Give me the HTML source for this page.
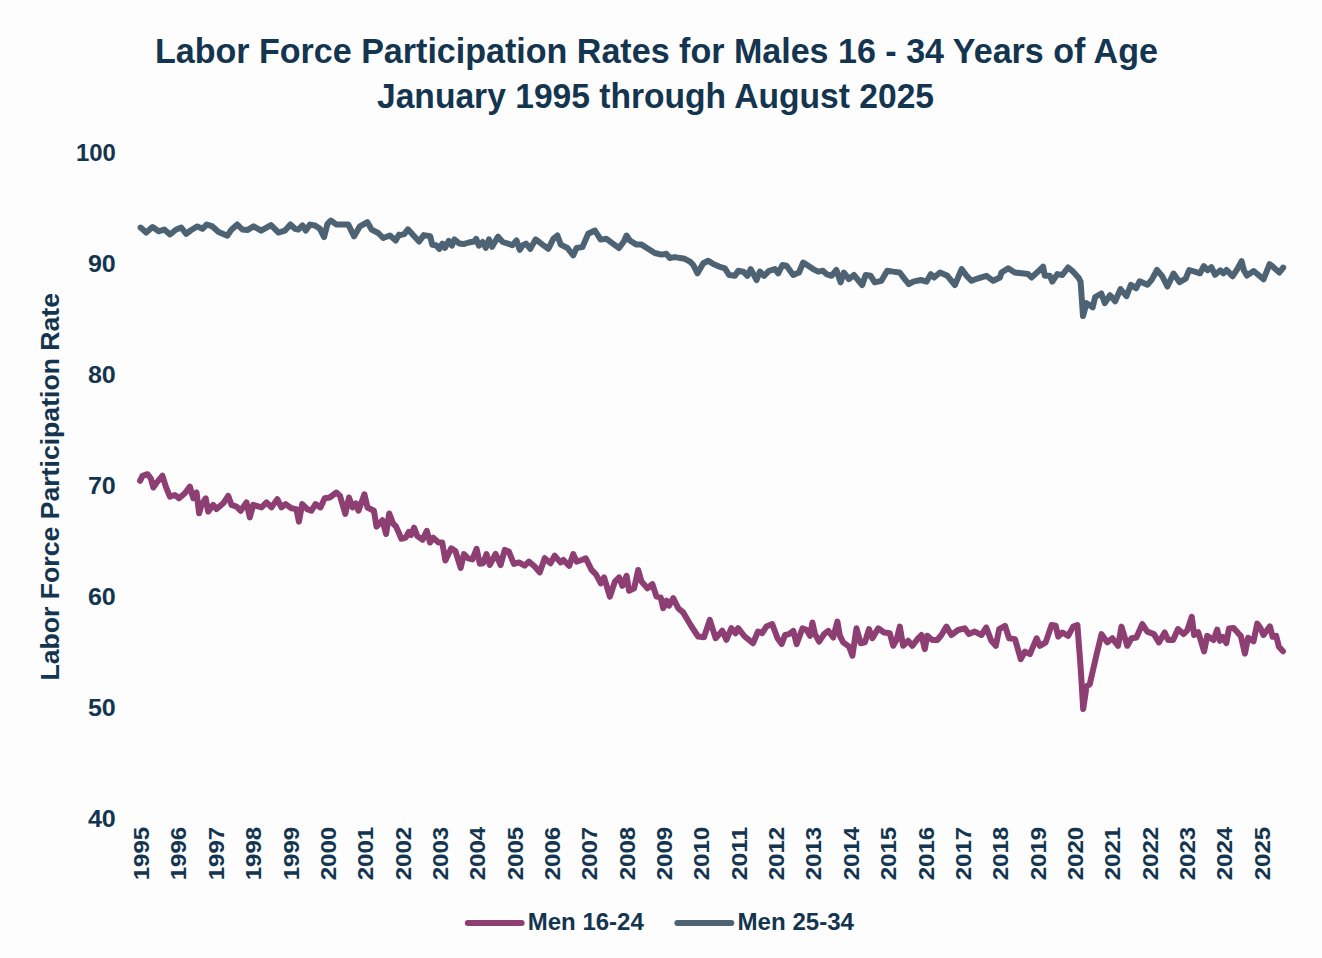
<!DOCTYPE html>
<html><head><meta charset="utf-8"><style>
html,body{margin:0;padding:0;background:#fdfdfd;}
svg{display:block;}
text{font-family:"Liberation Sans",Arial,sans-serif;font-weight:bold;fill:#14354f;}
.tk{font-size:24px;}
.xl{font-size:22.2px;}
</style></head><body>
<svg width="1322" height="958" viewBox="0 0 1322 958">
<rect width="1322" height="958" fill="#fdfdfd"/>
<text x="656.4" y="63" text-anchor="middle" style="font-size:34.5px" textLength="1003" lengthAdjust="spacingAndGlyphs">Labor Force Participation Rates for Males 16 - 34 Years of Age</text>
<text x="655.5" y="107.7" text-anchor="middle" style="font-size:34.5px" textLength="557" lengthAdjust="spacingAndGlyphs">January 1995 through August 2025</text>
<text x="75.9" y="160.8" class="tk" textLength="39.9" lengthAdjust="spacingAndGlyphs">100</text>
<text x="87.9" y="271.8" class="tk" textLength="27.9" lengthAdjust="spacingAndGlyphs">90</text>
<text x="87.9" y="382.7" class="tk" textLength="27.9" lengthAdjust="spacingAndGlyphs">80</text>
<text x="87.9" y="493.7" class="tk" textLength="27.9" lengthAdjust="spacingAndGlyphs">70</text>
<text x="87.9" y="604.7" class="tk" textLength="27.9" lengthAdjust="spacingAndGlyphs">60</text>
<text x="87.9" y="715.6" class="tk" textLength="27.9" lengthAdjust="spacingAndGlyphs">50</text>
<text x="87.9" y="826.6" class="tk" textLength="27.9" lengthAdjust="spacingAndGlyphs">40</text>

<text transform="translate(59,680.5) rotate(-90)" style="font-size:26px" textLength="387.5" lengthAdjust="spacingAndGlyphs">Labor Force Participation Rate</text>
<text transform="translate(149.1,880.3) rotate(-90)" class="xl" textLength="53.5" lengthAdjust="spacingAndGlyphs">1995</text>
<text transform="translate(186.4,880.3) rotate(-90)" class="xl" textLength="53.5" lengthAdjust="spacingAndGlyphs">1996</text>
<text transform="translate(223.8,880.3) rotate(-90)" class="xl" textLength="53.5" lengthAdjust="spacingAndGlyphs">1997</text>
<text transform="translate(261.1,880.3) rotate(-90)" class="xl" textLength="53.5" lengthAdjust="spacingAndGlyphs">1998</text>
<text transform="translate(298.5,880.3) rotate(-90)" class="xl" textLength="53.5" lengthAdjust="spacingAndGlyphs">1999</text>
<text transform="translate(335.9,880.3) rotate(-90)" class="xl" textLength="53.5" lengthAdjust="spacingAndGlyphs">2000</text>
<text transform="translate(373.2,880.3) rotate(-90)" class="xl" textLength="53.5" lengthAdjust="spacingAndGlyphs">2001</text>
<text transform="translate(410.5,880.3) rotate(-90)" class="xl" textLength="53.5" lengthAdjust="spacingAndGlyphs">2002</text>
<text transform="translate(447.9,880.3) rotate(-90)" class="xl" textLength="53.5" lengthAdjust="spacingAndGlyphs">2003</text>
<text transform="translate(485.2,880.3) rotate(-90)" class="xl" textLength="53.5" lengthAdjust="spacingAndGlyphs">2004</text>
<text transform="translate(522.6,880.3) rotate(-90)" class="xl" textLength="53.5" lengthAdjust="spacingAndGlyphs">2005</text>
<text transform="translate(560.0,880.3) rotate(-90)" class="xl" textLength="53.5" lengthAdjust="spacingAndGlyphs">2006</text>
<text transform="translate(597.3,880.3) rotate(-90)" class="xl" textLength="53.5" lengthAdjust="spacingAndGlyphs">2007</text>
<text transform="translate(634.6,880.3) rotate(-90)" class="xl" textLength="53.5" lengthAdjust="spacingAndGlyphs">2008</text>
<text transform="translate(672.0,880.3) rotate(-90)" class="xl" textLength="53.5" lengthAdjust="spacingAndGlyphs">2009</text>
<text transform="translate(709.4,880.3) rotate(-90)" class="xl" textLength="53.5" lengthAdjust="spacingAndGlyphs">2010</text>
<text transform="translate(746.7,880.3) rotate(-90)" class="xl" textLength="53.5" lengthAdjust="spacingAndGlyphs">2011</text>
<text transform="translate(784.1,880.3) rotate(-90)" class="xl" textLength="53.5" lengthAdjust="spacingAndGlyphs">2012</text>
<text transform="translate(821.4,880.3) rotate(-90)" class="xl" textLength="53.5" lengthAdjust="spacingAndGlyphs">2013</text>
<text transform="translate(858.8,880.3) rotate(-90)" class="xl" textLength="53.5" lengthAdjust="spacingAndGlyphs">2014</text>
<text transform="translate(896.1,880.3) rotate(-90)" class="xl" textLength="53.5" lengthAdjust="spacingAndGlyphs">2015</text>
<text transform="translate(933.5,880.3) rotate(-90)" class="xl" textLength="53.5" lengthAdjust="spacingAndGlyphs">2016</text>
<text transform="translate(970.8,880.3) rotate(-90)" class="xl" textLength="53.5" lengthAdjust="spacingAndGlyphs">2017</text>
<text transform="translate(1008.2,880.3) rotate(-90)" class="xl" textLength="53.5" lengthAdjust="spacingAndGlyphs">2018</text>
<text transform="translate(1045.5,880.3) rotate(-90)" class="xl" textLength="53.5" lengthAdjust="spacingAndGlyphs">2019</text>
<text transform="translate(1082.8,880.3) rotate(-90)" class="xl" textLength="53.5" lengthAdjust="spacingAndGlyphs">2020</text>
<text transform="translate(1120.2,880.3) rotate(-90)" class="xl" textLength="53.5" lengthAdjust="spacingAndGlyphs">2021</text>
<text transform="translate(1157.5,880.3) rotate(-90)" class="xl" textLength="53.5" lengthAdjust="spacingAndGlyphs">2022</text>
<text transform="translate(1194.9,880.3) rotate(-90)" class="xl" textLength="53.5" lengthAdjust="spacingAndGlyphs">2023</text>
<text transform="translate(1232.2,880.3) rotate(-90)" class="xl" textLength="53.5" lengthAdjust="spacingAndGlyphs">2024</text>
<text transform="translate(1269.6,880.3) rotate(-90)" class="xl" textLength="53.5" lengthAdjust="spacingAndGlyphs">2025</text>

<polyline points="140.6,227.6 146.2,232.6 152.5,227.0 158.7,231.3 164.3,229.5 170.0,234.5 176.2,229.5 181.2,227.6 186.2,233.8 191.2,230.0 197.4,226.4 202.4,228.8 206.8,224.5 212.4,226.4 218.6,232.0 227.4,235.7 231.1,230.1 237.3,224.5 242.3,229.5 247.3,230.1 253.6,226.4 261.1,230.7 271.0,225.1 278.5,232.6 284.8,230.7 290.4,224.5 295.0,228.8 298.3,229.6 302.5,225.5 305.8,230.5 310.0,224.6 315.0,225.5 320.0,228.8 324.1,237.1 327.5,223.8 330.8,220.5 336.6,224.6 343.3,224.6 348.3,224.6 354.1,236.3 359.9,226.3 367.4,222.1 371.6,229.6 378.2,233.0 383.2,238.0 389.9,235.5 395.7,240.5 399.0,234.6 400.0,235.1 404.2,234.1 407.9,229.3 413.8,235.7 419.1,241.5 423.8,235.1 430.2,236.2 432.3,244.7 436.0,245.2 439.2,248.9 442.4,243.6 445.0,247.8 448.7,240.9 451.9,245.7 454.5,239.4 459.3,243.6 463.5,244.1 468.8,242.5 474.1,241.5 476.2,238.8 478.9,245.7 482.6,242.0 485.8,247.8 489.0,239.4 492.1,246.8 498.0,236.7 502.7,242.0 508.0,243.6 512.3,245.2 516.5,240.4 519.7,249.9 522.8,245.2 526.0,243.6 530.3,248.9 535.6,239.4 539.8,242.5 542.5,244.6 548.3,248.8 553.3,238.8 557.4,235.5 560.8,244.6 567.4,248.0 573.2,255.4 576.6,248.0 582.4,247.1 588.2,233.8 594.9,230.5 600.7,239.6 606.5,238.8 613.2,243.8 619.0,248.0 624.0,241.3 626.5,235.5 629.8,240.5 636.5,244.6 641.5,244.6 648.1,248.8 654.8,253.0 661.4,254.6 666.4,253.8 669.8,258.0 674.8,257.1 684.7,258.8 690.0,261.6 693.3,265.0 697.5,273.3 703.3,263.3 708.3,260.8 713.3,264.1 719.1,266.6 724.9,268.3 729.1,275.0 734.9,275.8 738.3,270.8 743.3,271.6 747.4,275.8 750.7,269.1 756.6,280.0 759.9,271.6 764.1,275.8 769.0,270.8 774.9,269.1 778.2,273.3 782.4,265.0 786.5,265.8 793.2,275.0 799.0,272.5 803.2,262.5 808.2,265.8 813.1,269.1 818.1,271.6 823.1,270.8 826.5,274.1 831.5,275.8 836.4,270.0 840.6,282.4 843.9,272.5 848.9,279.1 853.9,275.0 862.2,285.0 865.6,275.0 870.6,275.8 874.7,282.4 881.4,280.8 887.2,270.8 893.0,271.6 899.7,272.5 904.7,279.1 908.8,284.1 913.3,281.6 920.8,280.0 926.6,281.6 930.8,274.1 934.1,277.5 940.0,272.5 947.4,275.8 954.9,285.0 961.6,269.1 966.6,275.8 971.6,280.8 978.2,278.3 986.5,275.8 993.2,280.8 999.9,277.5 1001.5,272.5 1008.2,268.3 1014.8,272.5 1021.5,273.3 1028.1,274.1 1031.5,277.5 1038.1,271.6 1043.1,266.6 1044.8,275.8 1049.8,275.8 1052.3,281.6 1057.3,274.1 1062.3,275.0 1068.1,267.5 1073.1,271.6 1078.9,278.3 1080.6,281.6 1083.0,316.1 1086.5,303.1 1092.6,307.4 1095.2,297.0 1101.3,293.5 1104.8,303.1 1110.0,295.2 1115.2,301.3 1120.5,289.1 1126.5,296.1 1130.9,284.8 1136.1,288.3 1139.6,281.3 1147.4,284.8 1151.8,279.6 1157.0,270.0 1162.2,276.1 1167.4,286.5 1173.5,273.5 1179.6,282.2 1185.7,278.7 1189.2,270.0 1197.9,272.6 1200.0,273.3 1203.8,266.1 1207.6,270.3 1211.3,267.2 1215.1,274.8 1220.4,270.3 1223.4,273.3 1226.5,269.9 1232.5,276.3 1238.0,268.0 1241.6,261.2 1243.9,270.3 1246.9,275.6 1253.7,271.0 1263.5,279.3 1269.6,264.2 1273.4,267.2 1279.4,272.5 1283.2,267.6" fill="none" stroke="#4d6374" stroke-width="6" stroke-linejoin="round" stroke-linecap="round"/>
<polyline points="140.0,480.8 142.5,475.8 147.5,474.2 150.8,478.3 153.3,487.5 157.5,481.6 162.5,475.8 165.8,486.6 169.9,496.6 174.9,495.0 179.1,498.3 184.9,493.3 189.9,486.6 193.2,498.3 196.6,492.5 199.1,513.3 201.6,504.9 205.7,498.3 208.2,511.6 213.2,504.9 216.5,509.1 223.2,503.3 228.2,495.8 231.5,504.9 236.5,506.6 240.7,510.8 246.5,502.4 249.8,517.4 253.2,504.9 261.5,507.4 266.5,502.4 271.5,507.4 277.3,499.1 281.4,507.4 285.6,504.1 291.4,508.3 296.4,509.1 298.9,521.6 302.2,504.1 307.2,509.1 311.4,510.8 315.5,504.1 320.5,507.4 324.7,498.3 329.7,497.5 336.4,492.5 340.0,495.9 345.3,513.9 349.0,497.5 352.7,507.5 355.9,503.3 358.5,510.7 364.4,494.3 367.5,507.5 373.9,510.7 376.5,526.6 382.4,520.2 386.1,534.0 389.2,513.4 393.0,523.4 396.1,526.6 401.4,538.8 405.7,537.7 408.8,531.9 411.0,535.1 414.1,527.7 417.3,536.1 422.6,539.8 426.8,530.8 430.0,542.5 433.2,537.7 438.5,542.5 442.2,542.5 445.4,560.5 451.2,548.3 455.4,551.0 460.7,567.9 463.9,554.1 468.1,558.4 472.4,559.4 476.6,548.8 479.8,563.7 483.1,563.2 486.5,554.0 489.8,564.9 495.6,554.0 500.6,564.9 504.8,549.9 508.9,551.6 513.9,564.0 518.9,562.4 524.7,565.7 528.9,561.6 534.7,566.5 539.7,572.4 544.7,558.2 550.5,563.2 554.7,555.7 560.5,562.4 563.3,560.0 569.2,565.8 573.3,554.1 576.6,561.6 581.6,560.0 585.8,558.3 591.6,570.0 595.8,574.1 600.8,583.3 604.1,577.4 609.9,596.6 614.9,581.6 619.1,577.4 622.4,585.8 626.6,575.8 629.1,590.7 634.1,588.3 638.2,570.0 641.5,581.6 647.4,588.3 652.4,584.1 656.5,596.6 660.7,597.4 663.2,608.2 666.5,600.7 669.0,605.7 673.2,598.2 678.2,608.2 683.1,612.4 691.5,626.5 698.1,636.5 704.0,637.3 709.8,619.9 715.6,638.2 722.3,630.7 726.4,639.8 731.4,628.2 735.6,633.2 738.1,628.2 744.7,636.5 753.0,643.2 758.0,631.5 762.2,633.2 766.4,626.5 772.2,624.0 777.5,638.3 781.7,644.1 785.0,635.0 789.1,634.1 793.3,630.8 796.6,644.1 802.5,628.3 806.6,630.0 810.0,635.8 812.4,622.5 815.0,634.1 819.1,641.6 824.1,634.1 828.3,630.8 833.2,637.5 837.4,621.6 839.9,635.8 843.2,642.4 849.1,646.6 852.4,655.8 856.5,628.3 860.7,643.3 864.9,642.4 869.0,629.1 872.4,638.3 878.2,628.3 884.0,632.5 889.8,633.3 893.2,645.8 896.5,640.0 899.8,626.6 903.1,645.8 908.1,640.8 912.3,645.8 918.1,638.3 921.4,635.0 924.8,649.1 927.3,635.8 932.3,640.0 937.3,640.0 941.4,635.0 946.4,626.6 951.4,635.0 958.1,630.0 964.7,628.3 968.9,634.1 974.7,631.6 981.4,635.0 986.3,627.5 991.3,640.8 995.8,645.8 999.2,629.1 1005.0,625.8 1009.1,638.3 1015.0,639.1 1020.8,659.1 1024.9,651.6 1029.9,654.1 1036.6,638.3 1039.9,645.8 1045.7,642.4 1051.6,625.0 1055.7,625.8 1058.2,636.6 1062.4,632.5 1068.2,635.8 1073.2,626.6 1077.4,625.0 1080.7,668.2 1083.2,709.0 1086.5,686.5 1089.8,684.0 1096.5,654.9 1101.5,634.1 1107.3,642.4 1112.3,638.3 1118.1,645.8 1121.5,626.6 1127.3,645.8 1131.5,638.3 1136.4,637.5 1142.3,624.1 1147.3,631.6 1153.9,634.1 1158.9,642.4 1164.7,632.5 1168.1,639.9 1173.1,639.9 1178.0,629.1 1183.5,634.0 1187.3,630.4 1191.8,616.8 1194.1,635.0 1198.2,632.2 1204.1,651.3 1207.2,635.9 1213.6,640.0 1217.2,629.5 1219.9,640.9 1222.7,636.8 1226.3,643.1 1229.0,628.6 1233.6,628.1 1238.1,633.1 1240.8,635.9 1244.9,653.6 1248.1,637.7 1253.5,641.3 1257.2,623.6 1260.3,627.7 1263.5,635.0 1269.9,626.3 1272.6,636.8 1276.2,635.9 1278.9,646.8 1283.0,651.3" fill="none" stroke="#8d3e73" stroke-width="6" stroke-linejoin="round" stroke-linecap="round"/>
<line x1="467.8" y1="923" x2="521.6" y2="923" stroke="#8d3e73" stroke-width="6" stroke-linecap="round"/>
<text x="527.8" y="929.5" style="font-size:23px" textLength="116" lengthAdjust="spacingAndGlyphs">Men 16-24</text>
<line x1="677.4" y1="923" x2="731.3" y2="923" stroke="#4d6374" stroke-width="6" stroke-linecap="round"/>
<text x="737.5" y="929.5" style="font-size:23px" textLength="116.5" lengthAdjust="spacingAndGlyphs">Men 25-34</text>
</svg>
</body></html>
